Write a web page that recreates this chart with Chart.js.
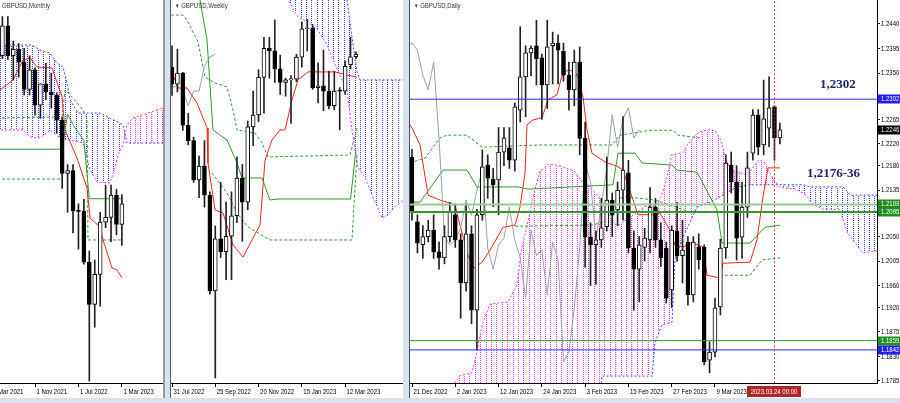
<!DOCTYPE html>
<html>
<head>
<meta charset="utf-8">
<title>GBPUSD Monthly / Weekly / Daily</title>
<script src="https://cdn.jsdelivr.net/npm/chart.js@4.4.0/dist/chart.umd.min.js"></script>
<style>
  html, body { margin: 0; padding: 0; }
  body { width: 900px; height: 403px; position: relative; overflow: hidden; background: #d7e2ee; }
  .pane { position: absolute; top: 0; height: 398px; background: #fff; }
  .pane canvas { position: absolute; left: 0; top: 0; }
  .title { position: absolute; top: 1px; font: 8px 'Liberation Sans', sans-serif; color: #333; white-space: nowrap;
           transform: scaleX(0.75); transform-origin: 0 0; }
  .tri { font-size: 6px; }
  .sep { position: absolute; top: 0; height: 398px; }
  #monthly { left: 0; width: 163px; }
  #weekly { left: 171px; width: 232px; }
  #daily { left: 410px; width: 490px; }
</style>
</head>
<body>
<div class="pane" id="monthly"><canvas id="cM" width="163" height="398"></canvas><div class="title" style="left:2px">GBPUSD,Monthly</div></div>
<div class="sep" style="left:163px;width:2px;background:#9c9c9c"></div>
<div class="sep" style="left:170px;width:1px;background:#606060"></div>
<div class="pane" id="weekly"><canvas id="cW" width="232" height="398"></canvas><div class="title" style="left:4px"><span class="tri">&#9660;</span> GBPUSD,Weekly</div></div>
<div class="sep" style="left:409px;width:1px;background:#505050"></div>
<div class="pane" id="daily"><canvas id="cD" width="490" height="398"></canvas><div class="title" style="left:4px"><span class="tri">&#9660;</span> GBPUSD,Daily</div></div>
<script>
/* GBPUSD, three timeframes side by side, Ichimoku style (MT4 look) */

const FONT = "'Liberation Sans', 'DejaVu Sans', sans-serif";
const NARROW = 0.75;   // terminal font is narrower than anything installed

// ---------------- monthly, bar index 0 = Nov 2021 ----------------
const mStart = -6;
const mOpen  = [1.3830,1.4150,1.3830,1.3900,1.3760,1.3470,1.3680,1.3300,1.3530,1.3440,1.3410,1.3140,1.2570,1.2600,1.2170,1.2165,1.1620,1.1170,1.1490,1.2050,1.2100,1.2340,1.2025];
const mHigh  = [1.4250,1.4250,1.3985,1.3960,1.3910,1.3830,1.3700,1.3530,1.3750,1.3645,1.3435,1.3170,1.2665,1.2665,1.2245,1.2295,1.1740,1.1645,1.2155,1.2445,1.2445,1.2400,1.2345];
const mLow   = [1.3800,1.3790,1.3570,1.3600,1.3410,1.3410,1.3195,1.3160,1.3360,1.3270,1.3000,1.2410,1.2155,1.1935,1.1760,1.1600,1.0350,1.0925,1.1150,1.1990,1.1840,1.1915,1.1800];
const mClose = [1.4150,1.3830,1.3900,1.3760,1.3470,1.3680,1.3300,1.3530,1.3440,1.3410,1.3140,1.2570,1.2600,1.2170,1.2165,1.1620,1.1170,1.1490,1.2050,1.2100,1.2340,1.2025,1.2246];
const mTickIdx = [-8, 0, 8, 16];
const mTickText = ['1 Mar 2021', '1 Nov 2021', '1 Jul 2022', '1 Mar 2023'];
const mTenkan = [[-6.45,1.3464],[-4.05,1.3571],[-2.21,1.3785],[-0.92,1.3806],[0.37,1.3710],[3.13,1.3699],[4.97,1.3389],[5.52,1.3036],[7.73,1.2736],[9.58,1.2415],[10.13,1.2094],[11.97,1.1998],[12.52,1.1859],[14.18,1.1559],[15.1,1.1538],[16.02,1.1452]];
const mKijun  = [[-7,1.2830],[5,1.2830],[6,1.3203],[7,1.3093],[8,1.3005],[9,1.2925],[10,1.2300],[16,1.2300]];
const mSpanA  = [[-7,1.3036],[-2.21,1.3036],[-0.92,1.2961],[0.92,1.2950],[2.76,1.3036],[4.6,1.2950],[8.84,1.2896],[10.13,1.2608],[11.42,1.2479],[13.81,1.2468],[14.73,1.2629],[15.29,1.2768],[16.21,1.2875],[16.94,1.3089],[18.05,1.3164],[24,1.3282]];
const mSpanB  = [[-7,1.3945],[-0.55,1.3945],[0.92,1.3892],[2.76,1.3859],[4.05,1.3752],[5.16,1.3710],[5.89,1.3538],[6.45,1.3357],[7.92,1.3217],[11.97,1.3217],[13.81,1.3164],[16.21,1.3089],[16.94,1.2896],[24,1.2896]];
const mDash1  = [[-7,1.3164],[4.97,1.3175],[5.52,1.3464],[6.81,1.3389],[8.84,1.3250],[9.58,1.3164],[9.76,1.1859],[16.02,1.1859]];
const mDash2  = [[-7,1.2511],[4.97,1.2511]];

// ---------------- weekly, bar index 0 = week of 31 Jul 2022 ----------------
const wStart = 0;
const wOpen  = [1.2170,1.2070,1.2135,1.1830,1.1740,1.1510,1.1590,1.1420,1.0860,1.1165,1.1090,1.1180,1.1300,1.1520,1.1380,1.1820,1.1890,1.2110,1.2280,1.2265,1.2160,1.2080,1.2095,1.2100,1.2229,1.2395,1.2400,1.2050,1.2060,1.2030,1.1945,1.2035,1.2030,1.2185,1.2231];
const wHigh  = [1.2295,1.2275,1.2140,1.1900,1.1760,1.1650,1.1740,1.1440,1.1240,1.1495,1.1380,1.1440,1.1645,1.1600,1.1855,1.2030,1.2155,1.2345,1.2345,1.2446,1.2240,1.2105,1.2120,1.2245,1.2435,1.2450,1.2420,1.2195,1.2270,1.2145,1.2145,1.2050,1.2205,1.2345,1.2260];
const wLow   = [1.2005,1.2025,1.1800,1.1715,1.1495,1.1405,1.1350,1.0840,1.0350,1.1055,1.0925,1.0925,1.1260,1.1150,1.1335,1.1710,1.1850,1.1900,1.2105,1.2080,1.2010,1.2000,1.1841,1.2085,1.2170,1.2265,1.2040,1.1960,1.1915,1.1925,1.1920,1.1803,1.2010,1.2160,1.2220];
const wClose = [1.2070,1.2135,1.1830,1.1740,1.1510,1.1590,1.1420,1.0860,1.1165,1.1090,1.1180,1.1300,1.1520,1.1380,1.1820,1.1890,1.2110,1.2280,1.2265,1.2160,1.2080,1.2095,1.2100,1.2229,1.2395,1.2400,1.2050,1.2060,1.2030,1.1945,1.2030,1.2030,1.2175,1.2230,1.2246];
const wTickIdx = [0, 8, 16, 24, 32];
const wTickText = ['31 Jul 2022', '25 Sep 2022', '20 Nov 2022', '15 Jan 2023', '12 Mar 2023'];
const wTenkan = [[-0.2,1.2150],[0,1.2142],[1.11,1.2048],[2.77,1.2048],[4.62,1.1960],[6.47,1.1814],[6.65,1.1609],[7.95,1.1334],[9.43,1.1316],[11.28,1.1129],[13.12,1.1058],[14.79,1.1158],[16.27,1.1246],[17.19,1.1626],[18.48,1.1743],[19.96,1.1802],[20.89,1.1802],[22.18,1.1978],[23.29,1.2095],[25.14,1.2142],[30.13,1.2142],[32.35,1.2124],[34.2,1.2112]];
const wKijun  = [[-0.2,1.2750],[5.18,1.2563],[6.47,1.2329],[7.58,1.1802],[10.17,1.1743],[12.01,1.1609],[12.94,1.1521],[16.64,1.1521],[18.11,1.1392],[19.59,1.1398],[33,1.1398],[34,1.1685]];
const wChikouStart = -1;
const wChikou = [1.2400,1.2050,1.2060,1.2030,1.1945,1.2030,1.2030,1.2175,1.2230,1.2246];
const wSpanA  = [[-1,1.3200],[20.0,1.2800],[20.52,1.2622],[21.44,1.2563],[23.29,1.2464],[25.14,1.2434],[26.99,1.2387],[28.84,1.2288],[29.57,1.2229],[31.42,1.2095],[32.35,1.2036],[33.27,1.1802],[34.38,1.1585],[35.67,1.1527],[37.15,1.1410],[38.82,1.1287],[39.93,1.1304],[41.22,1.1351],[43.5,1.1410]];
const wSpanB  = [[-1,1.3400],[31.5,1.2800],[32.35,1.2563],[33.27,1.2346],[34.2,1.2142],[34.75,1.2095],[43.5,1.2095]];
const wDash1  = [[-0.2,1.2475],[2.03,1.2475],[2.96,1.2434],[4.81,1.2317],[6.10,1.2112],[7.95,1.2077],[10.17,1.2054],[11.28,1.1919],[12.01,1.1802],[15.34,1.1784],[16.64,1.1726],[17.74,1.1644],[32.9,1.1656],[34.2,1.1814]];
const wDash2  = [[7.39,1.1550],[10.17,1.1433],[12.01,1.1316],[14.05,1.1234],[18.11,1.1158],[33.27,1.1158],[34.2,1.1667]];

// ---------------- daily, bar index 0 = 21 Dec 2022 ----------------
const dStart = 0;
const dOpen  = [1.2196,1.2077,1.2035,1.2050,1.2062,1.2022,1.2011,1.2050,1.2090,1.2044,
                1.1965,1.2055,1.1915,1.2090,1.2181,1.2155,1.2154,1.2205,1.2213,1.2190,
                1.2282,1.2343,1.2387,1.2400,1.2378,1.2328,1.2400,1.2405,1.2390,1.2346,
                1.2319,1.2370,1.2230,1.2049,1.2035,1.2044,1.2068,1.2117,1.2099,1.2135,
                1.2167,1.2029,1.1990,1.2030,1.2044,1.2104,1.2044,1.2029,1.1952,1.2060,
                1.2015,1.2040,1.1943,1.2031,1.2030,1.1823,1.1838,1.1921,1.2029,1.2181,
                1.2150,1.2049,1.2104,1.2203,1.2273,1.2218,1.2249,1.2288,1.2231];
const dHigh  = [1.2210,1.2090,1.2070,1.2080,1.2090,1.2040,1.2070,1.2113,1.2110,1.2055,
                1.2110,1.2070,1.2100,1.2209,1.2200,1.2175,1.2250,1.2250,1.2250,1.2295,
                1.2435,1.2400,1.2400,1.2447,1.2385,1.2447,1.2425,1.2420,1.2405,1.2370,
                1.2392,1.2398,1.2260,1.2075,1.2060,1.2120,1.2196,1.2130,1.2150,1.2270,
                1.2190,1.2060,1.2050,1.2065,1.2140,1.2120,1.2075,1.2040,1.2070,1.2113,
                1.2080,1.2050,1.2050,1.2055,1.2035,1.1857,1.1937,1.2045,1.2200,1.2205,
                1.2180,1.2150,1.2205,1.2283,1.2283,1.2337,1.2343,1.2290,1.2258];
const dLow   = [1.2080,1.2020,1.2010,1.2040,1.2010,1.1990,1.2000,1.2040,1.2030,1.1900,
                1.1950,1.1890,1.1842,1.2080,1.2120,1.2105,1.2090,1.2180,1.2175,1.2170,
                1.2260,1.2270,1.2345,1.2328,1.2265,1.2285,1.2330,1.2330,1.2335,1.2282,
                1.2290,1.2200,1.1994,1.1960,1.1962,1.2030,1.2060,1.2050,1.2070,1.2080,
                1.2020,1.1915,1.1930,1.2005,1.2020,1.2030,1.1995,1.1928,1.1920,1.2005,
                1.1965,1.1924,1.1930,1.1990,1.1815,1.1800,1.1829,1.1906,1.2010,1.2130,
                1.2007,1.2010,1.2085,1.2190,1.2200,1.2200,1.2215,1.2190,1.2220];
const dClose = [1.2095,1.2038,1.2050,1.2062,1.2022,1.2011,1.2050,1.2095,1.2044,1.1965,
                1.2055,1.1915,1.2090,1.2178,1.2157,1.2145,1.2205,1.2231,1.2190,1.2288,
                1.2343,1.2387,1.2396,1.2376,1.2328,1.2398,1.2405,1.2392,1.2346,1.2319,
                1.2370,1.2230,1.2049,1.2035,1.2044,1.2066,1.2117,1.2089,1.2135,1.2172,
                1.2029,1.1990,1.2035,1.2047,1.2104,1.2044,1.2011,1.1937,1.2062,1.2015,
                1.2025,1.1943,1.2040,1.2007,1.1820,1.1838,1.1919,1.2029,1.2185,1.2150,
                1.2047,1.2104,1.2176,1.2273,1.2214,1.2266,1.2286,1.2231,1.2246];
const dTickIdx = [0, 8, 16, 24, 32, 40, 48, 56];
const dTickText = ['21 Dec 2022', '2 Jan 2023', '12 Jan 2023', '24 Jan 2023', '3 Feb 2023', '15 Feb 2023', '27 Feb 2023', '9 Mar 2023'];
const dPriceTicks = [1.2440, 1.2395, 1.2350, 1.2265, 1.2220, 1.2180, 1.2135, 1.2050, 1.2005, 1.1960, 1.1920, 1.1875, 1.1830, 1.1785];
const dTenkan = [[-0.4,1.2255],[0,1.2249],[1.48,1.2218],[2.96,1.2126],[5.18,1.2117],[7.95,1.2108],[8.87,1.2071],[10.35,1.2016],[11.46,1.1992],[12.94,1.2003],[14.42,1.2025],[16.82,1.2067],[19.04,1.2071],[19.96,1.2104],[20.89,1.2167],[21.26,1.2255],[22.37,1.2264],[24.03,1.2268],[25.14,1.2301],[26.8,1.2310],[27.73,1.2346],[28.84,1.2356],[30.13,1.2352],[30.68,1.2343],[31.61,1.2306],[32.35,1.2246],[33.27,1.2203],[35.67,1.2187],[38.08,1.2178],[39.0,1.2172],[41.77,1.2090],[44.36,1.2090],[45.84,1.2093],[47.69,1.2062],[48.61,1.2034],[50.09,1.2031],[51.94,1.2038],[53.79,1.2031],[54.53,1.1979],[56.93,1.1974],[57.49,1.2001],[62.48,1.2003],[63.77,1.2044],[64.88,1.2123],[65.8,1.2176],[68.02,1.2176]];
const dKijun  = [[-0.4,1.2113],[1.48,1.2113],[5.73,1.2172],[10.17,1.2172],[12.01,1.2141],[19.59,1.2141],[21.44,1.2137],[37.15,1.2145],[38.08,1.2203],[41.22,1.2203],[42.51,1.2185],[48.06,1.2181],[48.98,1.2172],[52.68,1.2168],[56.38,1.2099],[57.3,1.2038],[62.48,1.2038],[65.25,1.2067],[68.02,1.2071]];
const dChikouStart = -1;
const dChikou = [1.2398,1.2405,1.2392,1.2346,1.2319,1.2370,1.2230,1.2049,1.2035,1.2044,
                 1.2066,1.2117,1.2089,1.2135,1.2172,1.2029,1.1990,1.2035,1.2047,1.2104,
                 1.2044,1.2011,1.1937,1.2062,1.2015,1.2025,1.1943,1.2040,1.2007,1.1820,
                 1.1838,1.1919,1.2029,1.2185,1.2150,1.2047,1.2104,1.2176,1.2273,1.2214,
                 1.2266,1.2286,1.2231,1.2246];
const dSpanA  = [[-1,1.1740],[7.2,1.1765],[7.95,1.1781],[8.87,1.1795],[11.09,1.1800],[12.01,1.1838],[12.94,1.1888],[14.42,1.1926],[17.74,1.1930],[19.41,1.1961],[20.15,1.2022],[21.63,1.2087],[22.74,1.2137],[23.66,1.2170],[25.32,1.2183],[27,1.2181],[30,1.2170],[31.5,1.2150],[33,1.2141],[35,1.2116],[37,1.2078],[38,1.2070],[40,1.2083],[43,1.2105],[45,1.2106],[46,1.2122],[47,1.2152],[48,1.2200],[50,1.2204],[51,1.2220],[53,1.2242],[55,1.2246],[56,1.2245],[57,1.2229],[58,1.2192],[59,1.2172],[62,1.2163],[64,1.2190],[65,1.2188],[67,1.2152],[68,1.2140],[71,1.2137],[73,1.2125],[74,1.2109],[76,1.2100],[79,1.2100],[80.5,1.2057],[82,1.2037],[83.3,1.2020],[87,1.2025]];
const dSpanB  = [[-1,1.1700],[34.5,1.1700],[35.1,1.1794],[44.4,1.1794],[44.9,1.1855],[46.2,1.1888],[48.06,1.1893],[48.6,1.2007],[50.1,1.2049],[52.7,1.2104],[55.1,1.2113],[60.1,1.2141],[62.5,1.2145],[72.3,1.2145],[73.6,1.2141],[79.7,1.2141],[81.0,1.2126],[87,1.2126]];
const dDash1  = [[-0.4,1.2185],[2.40,1.2194],[5.18,1.2231],[6.47,1.2236],[10.17,1.2236],[12.94,1.2214],[23.29,1.2218],[36.97,1.2218],[38.45,1.2236],[43.99,1.2245],[48.24,1.2245],[49.17,1.2236],[53.23,1.2231]];
const dDash2  = [[19.04,1.2069],[33.27,1.2071],[35.67,1.2077],[37.52,1.2117],[39.37,1.2123],[44.92,1.2117],[51.39,1.2095]];
const dDash3  = [[56.93,1.1979],[62.48,1.1979],[64.7,1.2007],[68.02,1.2011]];
const dLevels = [1.2302, 1.2109, 1.2095, 1.1859, 1.1842];
const dMarks  = [1.2302, 1.2246, 1.2109, 1.2095, 1.1859, 1.1842];
const dCursorIdx = 67;
const dCursorText = '2023.03.24 00:00';
const dNotes = ['1,2302', '1,2176-36'];

// ---------------- styles ----------------
const levelStyle = [
  { color: '#2a2aff', width: 1 }, { color: '#8fd08f', width: 2 }, { color: '#2f9a2f', width: 2 },
  { color: '#2f9a2f', width: 1 }, { color: '#2a2aff', width: 1 }
];
const markColors = ['#2020f0', '#000000', '#1f8f1f', '#1f8f1f', '#1f8f1f', '#2020f0'];
const noteAnchor = [[75.4, 1.2328], [73.0, 1.2165]];

// ---------------- helpers ----------------
const pts = arr => arr.map(([x, y]) => ({ x, y }));
const seq = (start, vals) => vals.map((y, k) => ({ x: start + k, y }));

function hatch(color) {
  // dotted vertical hatching, roughly one line per bar (5.4 px)
  const c = document.createElement('canvas');
  c.width = 27; c.height = 2;
  const g = c.getContext('2d');
  g.fillStyle = color;
  [0, 5, 11, 16, 22].forEach(x => g.fillRect(x, 0, 1, 1));
  return g.createPattern(c, 'repeat');
}

function narrowText(ctx, text, x, y, align) {
  ctx.save();
  ctx.translate(x, y);
  ctx.scale(NARROW, 1);
  ctx.textAlign = align || 'left';
  ctx.fillText(text, 0, 0);
  ctx.restore();
}

function lineSet(data, color, extra) {
  return Object.assign({
    type: 'line', data, borderColor: color, borderWidth: 1,
    pointRadius: 0, tension: 0, fill: false, order: 30
  }, extra || {});
}

function cloudSets(a, b) {
  // must be datasets 0 and 1: span A fills toward span B
  return [
    lineSet(pts(a), '#ff30ff', { borderDash: [2, 2], order: 60,
      fill: { target: 1, above: hatch('#ff30ff'), below: hatch('#3c3cff') } }),
    lineSet(pts(b), '#3c3cff', { borderDash: [2, 2], order: 60 })
  ];
}

function candleSets(start, o, h, l, c) {
  const idx = o.map((_, k) => start + k);
  return [
    { type: 'bar', data: idx.map((x, k) => ({ x, y: [l[k], h[k]] })), backgroundColor: '#222',
      barThickness: 1, grouped: false, order: 20 },
    { type: 'bar', data: idx.map((x, k) => ({ x, y: [o[k], c[k]] })),
      backgroundColor: idx.map((_, k) => c[k] >= o[k] ? '#ffffff' : '#000000'),
      borderColor: '#000', borderWidth: 1, borderSkipped: false, barThickness: 4,
      minBarLength: 1, grouped: false, order: 10 }
  ];
}

function xScale(min, max, tickIdx) {
  return {
    type: 'linear', min, max, offset: false,
    afterBuildTicks: s => { s.ticks = tickIdx.map(v => ({ value: v })); },
    afterFit: s => { s.height = 15; s.paddingLeft = 0; s.paddingRight = 0; },
    ticks: { display: false, autoSkip: false, maxRotation: 0 },
    grid: { drawOnChartArea: false, drawTicks: true, tickLength: 4, color: '#000', offset: false },
    border: { display: true, color: '#000', width: 1 }
  };
}

// date labels under each pane, drawn narrow at the x scale's tick positions
const dateLabels = {
  id: 'dateLabels',
  afterDraw(chart, args, opts) {
    const { ctx, chartArea: a, scales: { x } } = chart;
    ctx.save();
    ctx.font = '8px ' + FONT;
    ctx.fillStyle = '#000';
    ctx.textBaseline = 'middle';
    opts.idx.forEach((v, k) => narrowText(ctx, opts.text[k], x.getPixelForValue(v) + 1.5, a.bottom + 9));
    ctx.restore();
  }
};

function makeChart(id, datasets, scales, labelOpts, plugins) {
  return new Chart(document.getElementById(id), {
    type: 'line',
    data: { datasets },
    options: {
      responsive: false, animation: false, devicePixelRatio: 1,
      layout: { padding: 0 },
      plugins: { legend: { display: false }, tooltip: { enabled: false },
        filler: { drawTime: 'beforeDatasetsDraw', propagate: false },
        dateLabels: labelOpts },
      scales
    },
    plugins: [dateLabels].concat(plugins || [])
  });
}

// ---------------- monthly ----------------
makeChart('cM', [
  ...cloudSets(mSpanA, mSpanB),
  lineSet(pts(mDash1), '#3c9a3c', { borderDash: [3, 2], order: 40 }),
  lineSet(pts(mDash2), '#3c9a3c', { borderDash: [3, 2], order: 40 }),
  lineSet(pts(mKijun), '#2e9a2e'),
  lineSet(pts(mTenkan), '#ff2020'),
  ...candleSets(mStart, mOpen, mHigh, mLow, mClose)
], {
  x: xScale(-6.446, 23.57, mTickIdx),
  y: { type: 'linear', min: 1.03284, max: 1.44265, display: false }
}, { idx: mTickIdx, text: mTickText });

// ---------------- weekly ----------------
makeChart('cW', [
  ...cloudSets(wSpanA, wSpanB),
  lineSet(pts(wDash1), '#3c9a3c', { borderDash: [3, 2], order: 40 }),
  lineSet(pts(wDash2), '#3c9a3c', { borderDash: [3, 2], order: 40 }),
  lineSet(seq(wChikouStart, wChikou), '#9aa0a8'),
  lineSet(pts(wKijun), '#2e9a2e'),
  lineSet(pts(wTenkan), '#ff2020'),
  ...candleSets(wStart, wOpen, wHigh, wLow, wClose)
], {
  x: xScale(-0.185, 42.7, wTickIdx),
  y: { type: 'linear', min: 1.03206, max: 1.25631, display: false }
}, { idx: wTickIdx, text: wTickText });

// ---------------- daily ----------------
const dailyExtras = {
  id: 'dailyExtras',
  afterDraw(chart) {
    const { ctx, chartArea: a, scales: { x, y } } = chart;
    ctx.save();
    ctx.font = '8px ' + FONT;
    ctx.textBaseline = 'middle';
    ctx.fillStyle = '#000';
    dPriceTicks.forEach(v => narrowText(ctx, v.toFixed(4), a.right + 4, y.getPixelForValue(v)));
    dMarks.forEach((v, k) => {
      const py = Math.round(y.getPixelForValue(v));
      ctx.fillStyle = markColors[k];
      ctx.fillRect(a.right + 1, py - 4.5, 23, 9);
      ctx.fillStyle = '#fff';
      narrowText(ctx, v.toFixed(4), a.right + 4, py);
    });
    // date cursor label
    const cx = Math.round(x.getPixelForValue(dCursorIdx));
    ctx.fillStyle = '#b32424';
    ctx.fillRect(cx - 27, a.bottom + 3, 54, 11);
    ctx.fillStyle = '#fff';
    narrowText(ctx, dCursorText, cx, a.bottom + 9, 'center');
    // level notes
    ctx.font = "bold 13px 'Liberation Serif', 'DejaVu Serif', serif";
    ctx.fillStyle = '#1c1c70';
    ctx.textAlign = 'left';
    dNotes.forEach((t, k) => {
      ctx.fillText(t, x.getPixelForValue(noteAnchor[k][0]), y.getPixelForValue(noteAnchor[k][1]));
    });
    ctx.restore();
  }
};

makeChart('cD', [
  ...cloudSets(dSpanA, dSpanB),
  lineSet(pts(dDash1), '#3c9a3c', { borderDash: [3, 2], order: 40 }),
  lineSet(pts(dDash2), '#3c9a3c', { borderDash: [3, 2], order: 40 }),
  lineSet(pts(dDash3), '#3c9a3c', { borderDash: [3, 2], order: 40 }),
  lineSet(seq(dChikouStart, dChikou), '#9aa0a8'),
  lineSet(pts(dKijun), '#2e9a2e'),
  lineSet(pts(dTenkan), '#ff2020'),
  ...candleSets(dStart, dOpen, dHigh, dLow, dClose),
  ...dLevels.map((v, k) => lineSet([{ x: -1, y: v }, { x: 90, y: v }], levelStyle[k].color,
      { borderWidth: levelStyle[k].width, order: 5 })),
  lineSet([{ x: dCursorIdx, y: 1.17 }, { x: dCursorIdx, y: 1.26 }], '#c03a3a', { borderDash: [2, 2], order: 4 })
], {
  x: xScale(-0.37, 85.95, dTickIdx),
  y: {
    type: 'linear', position: 'right', min: 1.17813, max: 1.24840,
    afterBuildTicks: s => { s.ticks = dPriceTicks.map(v => ({ value: v })); },
    afterFit: s => { s.width = 23; s.paddingTop = 0; s.paddingBottom = 0; },
    ticks: { display: false },
    grid: { drawOnChartArea: false, drawTicks: true, tickLength: 3, color: '#000' },
    border: { display: true, color: '#000', width: 1 }
  }
}, { idx: dTickIdx, text: dTickText }, [dailyExtras]);
</script>
</body>
</html>
